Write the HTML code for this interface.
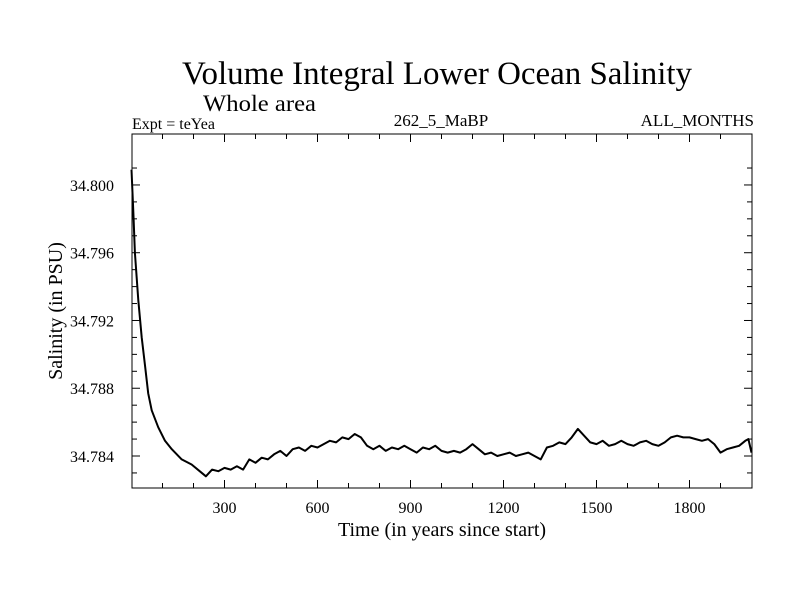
<!DOCTYPE html>
<html><head><meta charset="utf-8"><style>
html,body{margin:0;padding:0;background:#fff;}
svg{display:block;font-family:"Liberation Serif",serif;}
</style></head><body>
<svg id="chart" width="800" height="600" viewBox="0 0 800 600">
<text x="437" y="84" font-size="33" text-anchor="middle" textLength="510" lengthAdjust="spacingAndGlyphs">Volume Integral Lower Ocean Salinity</text>
<text x="203" y="111" font-size="23" textLength="113" lengthAdjust="spacingAndGlyphs">Whole area</text>
<text x="132" y="129" font-size="16">Expt = teYea</text>
<text x="441" y="126" font-size="17" text-anchor="middle">262_5_MaBP</text>
<text x="754" y="126" font-size="17" text-anchor="end">ALL_MONTHS</text>
<rect x="132" y="134" width="620" height="354" fill="none" stroke="#000" stroke-width="1"/>
<g id="ticks"></g>
<path id="line" fill="none" stroke="#000" stroke-width="2" stroke-linejoin="round"/>
<text x="442" y="536" font-size="20" text-anchor="middle">Time (in years since start)</text>
<text x="0" y="0" font-size="20" text-anchor="middle" transform="translate(62,311) rotate(-90)">Salinity (in PSU)</text>
</svg>
<script>
const years = [0,6,11,22,33,44,54,65,86,108,130,162,194,220,240,260,280,300,320,340,360,380,400,420,440,460,480,500,520,540,560,580,600,620,640,660,680,700,720,740,760,780,800,820,840,860,880,900,920,940,960,980,1000,1020,1040,1060,1080,1100,1120,1140,1160,1180,1200,1220,1240,1260,1280,1300,1320,1340,1360,1380,1400,1420,1440,1460,1480,1500,1520,1540,1560,1580,1600,1620,1640,1660,1680,1700,1720,1740,1760,1780,1800,1820,1840,1860,1880,1900,1920,1940,1960,1980,1990,2000];
const salinity = [34.8009,34.7983,34.7960,34.7932,34.7910,34.7893,34.7877,34.7867,34.7857,34.7849,34.7844,34.7838,34.7835,34.7831,34.7828,34.7832,34.7831,34.7833,34.7832,34.7834,34.7832,34.7838,34.7836,34.7839,34.7838,34.7841,34.7843,34.7840,34.7844,34.7845,34.7843,34.7846,34.7845,34.7847,34.7849,34.7848,34.7851,34.7850,34.7853,34.7851,34.7846,34.7844,34.7846,34.7843,34.7845,34.7844,34.7846,34.7844,34.7842,34.7845,34.7844,34.7846,34.7843,34.7842,34.7843,34.7842,34.7844,34.7847,34.7844,34.7841,34.7842,34.7840,34.7841,34.7842,34.7840,34.7841,34.7842,34.7840,34.7838,34.7845,34.7846,34.7848,34.7847,34.7851,34.7856,34.7852,34.7848,34.7847,34.7849,34.7846,34.7847,34.7849,34.7847,34.7846,34.7848,34.7849,34.7847,34.7846,34.7848,34.7851,34.7852,34.7851,34.7851,34.7850,34.7849,34.7850,34.7847,34.7842,34.7844,34.7845,34.7846,34.7849,34.7850,34.7842];
const xTicks = [300,600,900,1200,1500,1800];
const yTicks = [34.784,34.788,34.792,34.796,34.800];
const yTickLabels = ["34.784","34.788","34.792","34.796","34.800"];

const X0=131.5, XS=0.31;
function xs(t){return X0+t*XS;}
function ys(v){return 456-(v-34.784)*16940;}
const NS="http://www.w3.org/2000/svg";
const tg=document.getElementById('ticks');
function line(x1,y1,x2,y2,name){const l=document.createElementNS(NS,'line');l.setAttribute('x1',x1);l.setAttribute('y1',y1);l.setAttribute('x2',x2);l.setAttribute('y2',y2);l.setAttribute('stroke','#000');


tg.appendChild(l);}
function text(x,y,s,anchor,name){const t=document.createElementNS(NS,'text');t.setAttribute('x',x);t.setAttribute('y',y);t.setAttribute('font-size','16');t.setAttribute('text-anchor',anchor);t.textContent=s;


tg.appendChild(t);}
for(let t=100;t<2000;t+=100){const x=xs(t);const major=t%300===0;const L=major?8:5;
line(x,488,x,488-L,'x-tick');line(x,134,x,134+L,'x-tick-top');}
xTicks.forEach(t=>text(xs(t),513,String(t),'middle','x-tick-label'));
for(let k=0;k<=18;k++){const v=34.783+k*0.001;const y=ys(v);if(y<134||y>488)continue;const major=Math.abs(((v-34.784)/0.004)-Math.round((v-34.784)/0.004))<1e-6;const L=major?8:5;
line(132,y,132+L,y,'y-tick');line(752,y,752-L,y,'y-tick-right');}
yTicks.forEach((v,i)=>text(114,ys(v)+6,yTickLabels[i],'end','y-tick-label'));
let d='';years.forEach((t,i)=>{d+=(i?'L':'M')+xs(t).toFixed(1)+','+ys(salinity[i]).toFixed(1);});
document.getElementById('line').setAttribute('d',d);
</script>
</body></html>
